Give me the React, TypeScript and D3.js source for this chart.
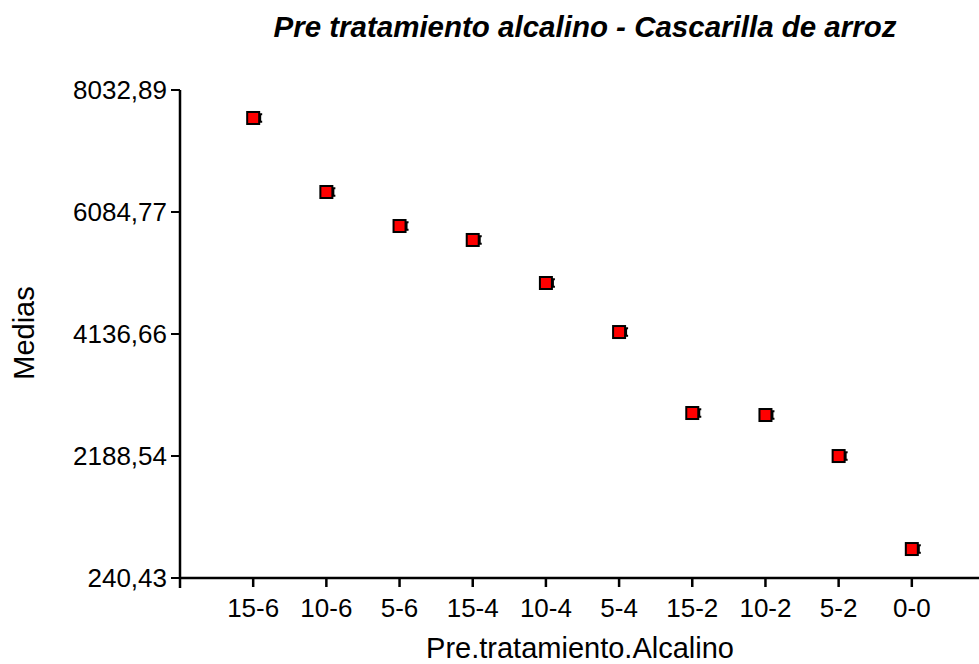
import React from "react";
import * as d3 from "d3";

const categories = ["15-6", "10-6", "5-6", "15-4", "10-4", "5-4", "15-2", "10-2", "5-2", "0-0"];
const means = [7586, 6404, 5861, 5638, 4951, 4168, 2875, 2843, 2188, 703];
const errors = [60, 60, 60, 60, 60, 60, 60, 60, 60, 60];
const yTicks = [240.43, 2188.54, 4136.66, 6084.77, 8032.89];

const W = 979;
const H = 664;
const left = 180;
const right = 979;
const top = 90;
const bottom = 578;

export default function App() {
  const x = d3.scalePoint<string>().domain(categories).range([left, 985]).padding(1);
  const y = d3.scaleLinear().domain([240.43, 8032.89]).range([bottom, top]);
  const fmt = (v: number) => v.toFixed(2).replace(".", ",");
  const font = "'Liberation Sans', Arial, sans-serif";
  return (
    <svg width={W} height={H} style={{ position: "absolute", left: 0, top: 0, background: "#fff" }}>
      <text x={585} y={37} textAnchor="middle" fontFamily={font} fontSize={29.5} fontWeight="bold" fontStyle="italic">
        Pre tratamiento alcalino - Cascarilla de arroz
      </text>
      <line x1={left} x2={left} y1={top} y2={bottom + 10} stroke="#000" strokeWidth={2.5} />
      <line x1={left - 1} x2={right} y1={bottom} y2={bottom} stroke="#000" strokeWidth={2.5} />
      {yTicks.map((t) => (
        <g key={t}>
          <line x1={left - 9} x2={left} y1={y(t)} y2={y(t)} stroke="#000" strokeWidth={2} />
          <text x={left - 13} y={y(t)} dy="0.36em" textAnchor="end" fontFamily={font} fontSize={26}>
            {fmt(t)}
          </text>
        </g>
      ))}
      {categories.map((c) => (
        <g key={c}>
          <line x1={x(c)} x2={x(c)} y1={bottom} y2={bottom + 9} stroke="#000" strokeWidth={2.5} />
          <text x={x(c)} y={617} textAnchor="middle" fontFamily={font} fontSize={26}>
            {c}
          </text>
        </g>
      ))}
      <text x={580} y={658} textAnchor="middle" fontFamily={font} fontSize={29}>
        Pre.tratamiento.Alcalino
      </text>
      <text transform={`translate(34,333) rotate(-90)`} textAnchor="middle" fontFamily={font} fontSize={29}>
        Medias
      </text>
      {categories.map((c, i) => {
        const cx = x(c) as number;
        const cy = y(means[i]);
        const y1 = y(means[i] + errors[i]);
        const y2 = y(means[i] - errors[i]);
        return (
          <g key={"p" + c}>
            <line x1={cx + 7} x2={cx + 7} y1={y1} y2={y2} stroke="#000" strokeWidth={2} />
            <line x1={cx} x2={cx + 9} y1={y1} y2={y1} stroke="#000" strokeWidth={2} />
            <line x1={cx} x2={cx + 9} y1={y2} y2={y2} stroke="#000" strokeWidth={2} />
            <rect x={cx - 6} y={cy - 6} width={12} height={12} fill="#ff0000" stroke="#000" strokeWidth={2} />
          </g>
        );
      })}
    </svg>
  );
}
